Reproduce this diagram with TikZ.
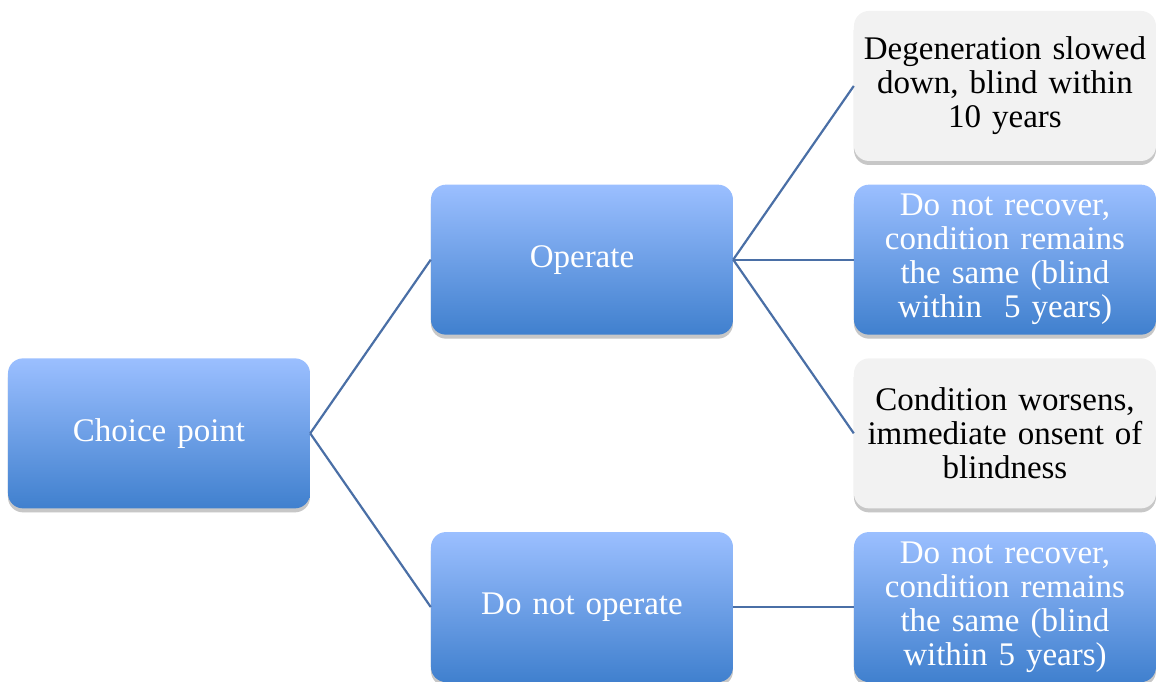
\documentclass[tikz,border=0pt]{standalone}
\usepackage{fontspec}
\setmainfont{Liberation Serif}
\usetikzlibrary{matrix,shadows}

\definecolor{boxtop}{HTML}{9BBFFF}
\definecolor{boxbot}{HTML}{4080CE}
\definecolor{boxgray}{HTML}{F2F2F2}
\definecolor{linkblue}{HTML}{4A6FA6}

\tikzset{
  box/.style={rectangle, rounded corners=15pt, minimum width=302pt, minimum height=150pt,
    text width=292pt, inner sep=5pt, align=center, anchor=center, font=\fontsize{33}{34}\selectfont,
    drop shadow={shadow xshift=0pt, shadow yshift=-4pt, opacity=0.25}},
  bluebox/.style={box, top color=boxtop, bottom color=boxbot, text=white},
  graybox/.style={box, fill=boxgray, text=black},
  link/.style={draw=linkblue, line width=2.2pt}
}

\begin{document}
\begin{tikzpicture}
  \useasboundingbox (-581.5pt,-340.5pt) rectangle (581.5pt,340.5pt);
  \matrix (m) at (0.5pt,-6pt) [matrix of nodes, row sep=23.7pt, column sep=121pt, nodes={box}]
  {
    & & |[graybox]| {Degeneration slowed\\ down, blind within\\ 10 years} \\
    & |[bluebox]| Operate & |[bluebox]| {Do not recover,\\ condition remains\\ the same (blind\\ within\ \ 5 years)} \\
    |[bluebox]| Choice point & & |[graybox]| {Condition worsens,\\ immediate onsent of\\ blindness} \\
    & |[bluebox]| Do not operate & |[bluebox]| {Do not recover,\\ condition remains\\ the same (blind\\ within 5 years)} \\
  };
  \path[link]
  (m-3-1.east) edge (m-2-2.west)
  edge (m-4-2.west)
  (m-2-2.east) edge (m-1-3.west)
  edge (m-2-3.west)
  edge (m-3-3.west)
  (m-4-2.east) edge (m-4-3.west);
\end{tikzpicture}
\end{document}
